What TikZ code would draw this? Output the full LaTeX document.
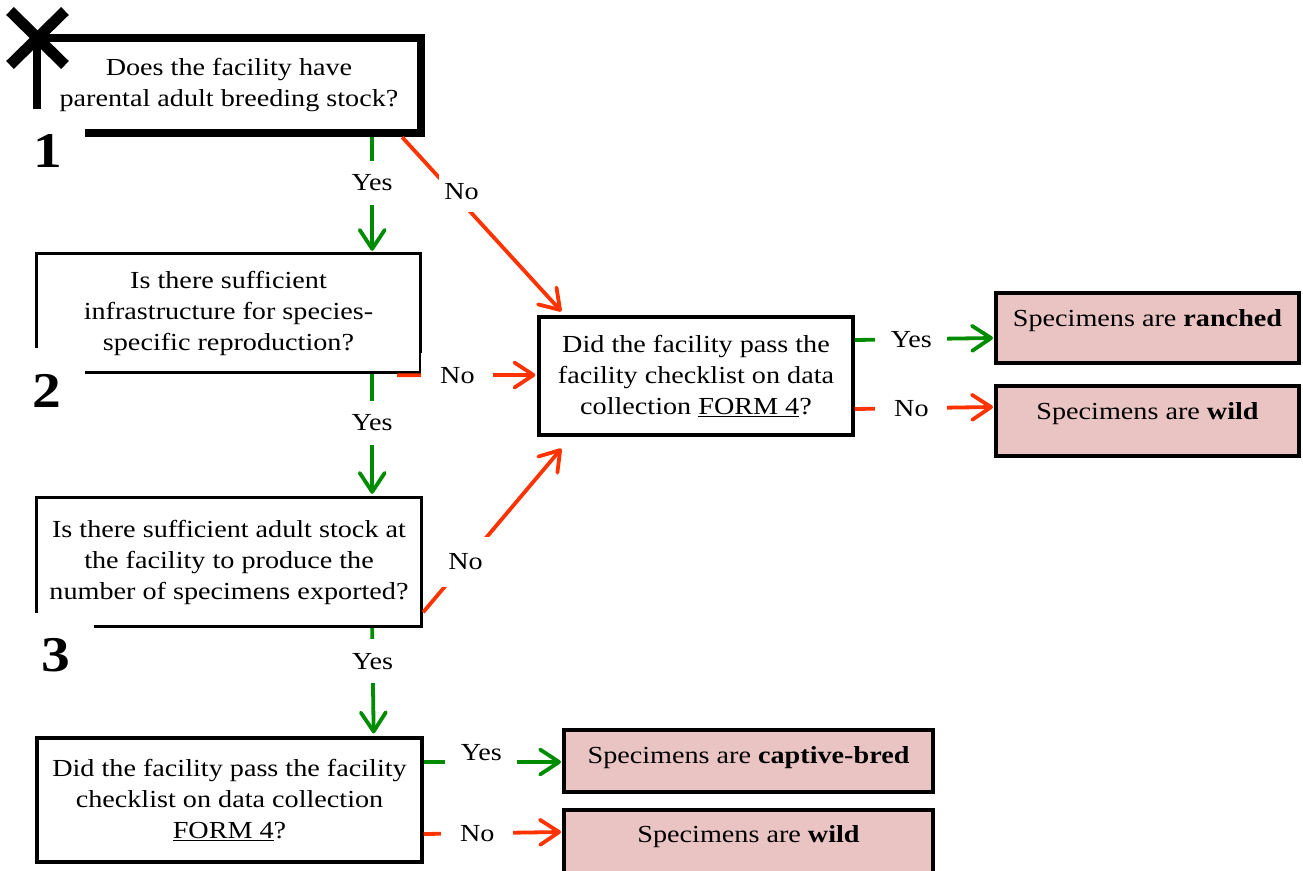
\documentclass[tikz,border=0pt]{standalone}
\usepackage{fontspec}
\setmainfont{Liberation Serif}[FakeStretch=1.15]
\usetikzlibrary{arrows.meta,calc}
\definecolor{ygreen}{RGB}{0,140,0}
\definecolor{nred}{RGB}{255,51,0}
\definecolor{rpink}{RGB}{234,196,195}
\begin{document}
\begin{tikzpicture}[x=1pt,y=-1pt,
  every node/.style={font=\fontsize{24.5}{31}\selectfont},
  qbox/.style={draw=none, align=center, inner sep=0pt},
  fullbox/.style={draw=black, line width=3.3pt, align=center, inner sep=0pt},
  boxline/.style={line width=3.3pt, line join=miter},
  rbox/.style={draw=black, line width=4pt, fill=rpink, inner sep=0pt},
  numlab/.style={font=\fontsize{50}{50}\selectfont\bfseries, inner sep=0pt},
  yesarrow/.style={draw=ygreen, line width=3.8pt, -{Straight Barb[length=19pt,width=25pt,round]}},
  noarrow/.style={draw=nred, line width=3.8pt, -{Straight Barb[length=19pt,width=25pt,round]}},
  lab/.style={fill=white, text=black, inner sep=0pt, minimum width=72pt, minimum height=44pt},
  dlab/.style={fill=white, text=black, inner sep=0pt, minimum width=46pt, minimum height=42pt}
]
\useasboundingbox (0,0) rectangle (1303,870);

% question boxes
\node[qbox, minimum width=384pt, minimum height=95pt] (b1) at (229,85.5)
  {Does the facility have\\parental adult breeding stock?};
\draw[line width=8pt] ($(b1.south west)+(0,-24)$) |- (b1.north east) |- ($(b1.south west)+(48,0)$);

\node[qbox, minimum width=383pt, minimum height=118pt] (b2) at (228.5,313)
  {Is there sufficient\\infrastructure for species-\\specific reproduction?};
\draw[boxline] ($(b2.south west)+(0,-24)$) |- (b2.north east) |- ($(b2.south west)+(48,0)$);

\node[qbox, minimum width=384pt, minimum height=128pt] (b3) at (229,562)
  {Is there sufficient adult stock at\\the facility to produce the\\number of specimens exported?};
\draw[boxline] ($(b3.south west)+(0,-13)$) |- (b3.north east) |- ($(b3.south west)+(57,0)$);

\node[fullbox, minimum width=385pt, minimum height=124pt] (b4) at (229.5,800)
  {Did the facility pass the facility\\checklist on data collection\\\underline{FORM 4}?};

\node[fullbox, minimum width=314pt, minimum height=118pt] (b5) at (696,376)
  {Did the facility pass the\\facility checklist on data\\collection \underline{FORM 4}?};

% result boxes
\node[rbox, minimum width=303pt, text height=33.5pt, text depth=36.5pt] (r1) at (1147.5,328)
  {Specimens are \textbf{ranched}};
\node[rbox, minimum width=303pt, text height=33.5pt, text depth=36.5pt] (r2) at (1147.5,421)
  {Specimens are \textbf{wild}};
\node[rbox, minimum width=369pt, text height=33pt, text depth=29pt] (r3) at (748.5,761)
  {Specimens are \textbf{captive-bred}};
\node[rbox, minimum width=369pt, text height=32pt, text depth=38pt] (r4) at (748.5,845)
  {Specimens are \textbf{wild}};

% numbers
\node[numlab, fill=white] (n1) at (47.5,150.5) {1};
\node[numlab] (n2) at (46.5,391) {2};
\node[numlab] (n3) at (55.5,655) {3};

% cross mark
\draw[line width=11pt] (10,11) -- (65,65);
\draw[line width=11pt] (65,11) -- (10,65);

% connectors
\draw[yesarrow] ($(b1.south east)+(-49,4)$) -- node[lab,pos=0.40]{Yes} ($(b2.north east)+(-48,-3)$);
\draw[yesarrow] ($(b2.south east)+(-48,2)$) -- node[lab,pos=0.405]{Yes} ($(b3.north east)+(-49,-4)$);
\draw[yesarrow] ($(b3.south east)+(-49,2)$) -- node[lab,pos=0.315]{Yes} ($(b4.north east)+(-50,-3)$);

\draw[noarrow] ($(b1.south east)+(-19,4)$) -- node[dlab,pos=0.31,xshift=10pt]{No} ($(b5.north west)+(24,-4)$);
\draw[noarrow] ($(b2.south east)+(-23,3)$) -- node[lab,pos=0.436]{No} ($(b5.west)+(-2,-1)$);
\draw[noarrow] ($(b3.south east)+(2,-14)$) -- node[dlab,pos=0.307,minimum height=50pt,minimum width=50pt]{No} ($(b5.south west)+(24,12)$);

\draw[yesarrow] ($(b5.east)+(0,-36)$) -- node[lab,pos=0.41]{Yes} ($(r1.north west)+(-1,47)$);
\draw[noarrow] ($(b5.east)+(0,33)$) -- node[lab,pos=0.41]{No} ($(r2.north west)+(-1,23)$);

\draw[yesarrow] ($(b4.east)+(0,-38)$) -- node[lab,pos=0.42,yshift=9pt]{Yes} ($(r3.west)+(-1,1)$);
\draw[noarrow] ($(b4.east)+(0,34)$) -- node[lab,pos=0.39]{No} ($(r4.north west)+(-1,24)$);
\end{tikzpicture}
\end{document}
